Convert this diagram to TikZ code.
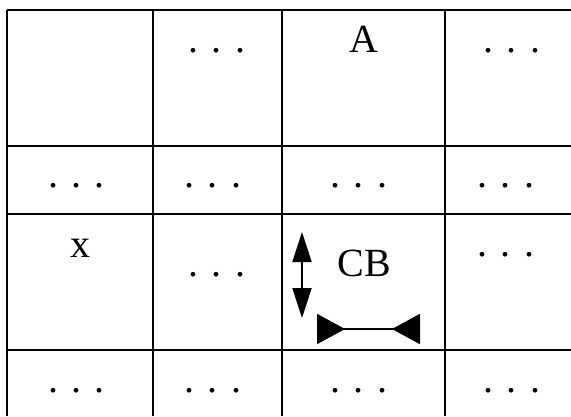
\documentclass[tikz,border=0pt]{standalone}
\usepackage{fontspec}
\setmainfont{Liberation Serif}
\usetikzlibrary{arrows.meta}

\begin{document}
\begin{tikzpicture}[x=1pt, y=-1pt,
    rule/.style={line width=1.5pt},
    entry/.style={anchor=base, inner sep=0pt, font=\fontsize{40}{48}\selectfont},
    updown/.style={line width=2pt, {Triangle[length=30pt, width=19pt]}-{Triangle[length=30pt, width=19pt]}},
    inward/.style={line width=2pt, {Triangle[reversed, length=28pt, width=30pt]}-{Triangle[reversed, length=28pt, width=30pt]}}]

    \useasboundingbox (0,0) rectangle (571,416);

    % table rules
    \draw[rule] (7,10) -- (571,10);
    \draw[rule] (7,146) -- (571,146);
    \draw[rule] (7,214) -- (571,214);
    \draw[rule] (7,350) -- (571,350);
    \draw[rule] (7,10) -- (7,416);
    \draw[rule] (153,10) -- (153,416);
    \draw[rule] (282,10) -- (282,416);
    \draw[rule] (445,10) -- (445,416);

    % first row
    \node[entry] (dotsab) at (217,52) {. . .};
    \node[entry] (a) at (364,52) {A};
    \node[entry] (dotsad) at (512,52) {. . .};

    % second row
    \node[entry] (dotsba) at (76.5,187.5) {. . .};
    \node[entry] (dotsbb) at (213,187.5) {. . .};
    \node[entry] (dotsbc) at (359,187.5) {. . .};
    \node[entry] (dotsbd) at (506,187.5) {. . .};

    % third row
    \node[entry] (x) at (80,257) {x};
    \node[entry] (dotscb) at (217,276.5) {. . .};
    \node[entry] (cb) at (364,276) {CB};
    \node[entry] (dotscd) at (506,256.5) {. . .};

    \coordinate (up) at (302,232);
    \coordinate (down) at (302,318);
    \coordinate (left) at (317,329);
    \coordinate (right) at (420,329);
    \draw[updown] (up) -- (down);
    \draw[inward] (left) -- (right);

    % fourth row
    \node[entry] (dotsda) at (76.5,392.5) {. . .};
    \node[entry] (dotsdb) at (213,392.5) {. . .};
    \node[entry] (dotsdc) at (359,392.5) {. . .};
    \node[entry] (dotsdd) at (512,392.5) {. . .};

\end{tikzpicture}
\end{document}
